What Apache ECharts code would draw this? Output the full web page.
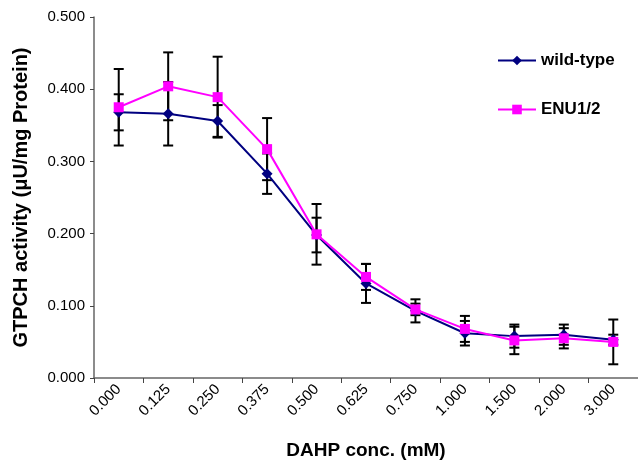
<!DOCTYPE html>
<html>
<head>
<meta charset="utf-8">
<script src="https://cdn.jsdelivr.net/npm/echarts@6/dist/echarts.min.js"></script>
<style>html,body{margin:0;padding:0;background:#fff;}#c{width:638px;height:465px;}</style>
</head>
<body>
<div id="c"></div>
<script>
var categories = ['0.000','0.125','0.250','0.375','0.500','0.625','0.750','1.000','1.500','2.000','3.000'];
var wildType    = [0.368,0.366,0.356,0.283,0.198,0.131,0.093,0.062,0.058,0.060,0.053];
var wildTypeErr = [0.025,0.044,0.022,0.028,0.024,0.027,0.016,0.017,0.016,0.014,0.007];
var enu         = [0.375,0.404,0.389,0.317,0.199,0.140,0.095,0.068,0.052,0.055,0.050];
var enuErr      = [0.053,0.047,0.056,0.043,0.042,0.018,0.008,0.018,0.019,0.014,0.031];
var yTicks = [0, 0.1, 0.2, 0.3, 0.4, 0.5];

function errData(vals, errs){
  return vals.map(function(v,i){ return [i, v - errs[i], v + errs[i]]; });
}
function renderErr(params, api){
  var x = api.value(0);
  var lo = api.coord([x, api.value(1)]);
  var hi = api.coord([x, api.value(2)]);
  var w = 5;
  var st = {stroke:'#000', lineWidth:2};
  return {type:'group', children:[
    {type:'line', shape:{x1:hi[0], y1:hi[1], x2:lo[0], y2:lo[1]}, style:st},
    {type:'line', shape:{x1:hi[0]-w, y1:hi[1], x2:hi[0]+w, y2:hi[1]}, style:st},
    {type:'line', shape:{x1:lo[0]-w, y1:lo[1], x2:lo[0]+w, y2:lo[1]}, style:st}
  ]};
}

var chart = echarts.init(document.getElementById('c'), null, {renderer:'canvas'});
chart.setOption({
  animation:false,
  backgroundColor:'#fff',
  textStyle:{fontFamily:'Liberation Sans, Arial, sans-serif'},
  grid:{left:94, right:-4, top:17, bottom:83.5, containLabel:false},
  legend:{
    data:['wild-type','ENU1/2'], orient:'vertical', left:497, top:52, padding:0,
    itemWidth:38, itemHeight:12, itemGap:32,
    textStyle:{fontSize:17, fontWeight:'bold', color:'#000', fontFamily:'Liberation Sans, Arial, sans-serif'}
  },
  xAxis:{
    type:'category', data:categories, boundaryGap:true,
    name:'DAHP conc. (mM)', nameLocation:'middle', nameGap:63,
    nameTextStyle:{fontSize:19, fontWeight:'bold', color:'#000'},
    axisLine:{lineStyle:{color:'#666', width:1.5}},
    axisTick:{show:true, alignWithLabel:false, length:5, lineStyle:{color:'#444'}},
    axisLabel:{rotate:45, fontSize:15, color:'#000', margin:9, interval:0}
  },
  yAxis:{
    type:'value', min:yTicks[0], max:yTicks[yTicks.length-1], interval:0.1,
    name:'GTPCH activity (\u03bcU/mg Protein)', nameLocation:'middle', nameGap:63,
    nameTextStyle:{fontSize:20, fontWeight:'bold', color:'#000'},
    axisLine:{show:true, lineStyle:{color:'#666', width:1.5}},
    axisTick:{show:true, length:4, lineStyle:{color:'#444'}},
    splitLine:{show:false},
    axisLabel:{fontSize:15, color:'#000', margin:9, formatter:function(v){return v.toFixed(3);}}
  },
  series:[
    {type:'custom', name:'errWT', renderItem:renderErr, data:errData(wildType, wildTypeErr), z:1, silent:true},
    {type:'custom', name:'errENU', renderItem:renderErr, data:errData(enu, enuErr), z:1, silent:true},
    {type:'line', name:'wild-type', data:wildType, z:3, symbol:'diamond', symbolSize:11,
     itemStyle:{color:'#000080'}, lineStyle:{color:'#000080', width:2}},
    {type:'line', name:'ENU1/2', data:enu, z:4, symbol:'rect', symbolSize:10,
     itemStyle:{color:'#ff00ff'}, lineStyle:{color:'#ff00ff', width:2}}
  ]
});
</script>
</body>
</html>
